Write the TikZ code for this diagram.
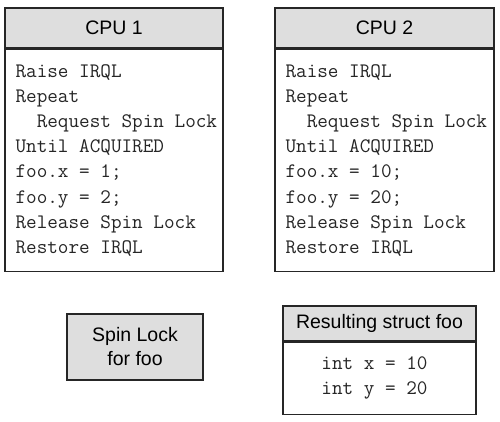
\documentclass[tikz,border=0pt]{standalone}
\usepackage{fontspec}
\setsansfont{Liberation Sans}
\usepackage{tikz}
\usetikzlibrary{positioning}

\begin{document}
\begin{tikzpicture}[
    x=1pt, y=1pt,
    font=\sffamily\fontsize{19.5}{24}\selectfont,
    frame/.style={draw=black!85, line width=1.3pt, rectangle, inner sep=0pt},
    head/.style={frame, fill=black!13, align=center},
    body/.style={frame, fill=white},
    code/.style={font=\ttfamily\fontsize{20.6}{25.2}\selectfont, text=black!85, align=left, inner sep=0pt},
    lock/.style={frame, fill=black!13, align=center}
  ]

  \useasboundingbox (0,0) rectangle (500,-422);

  % ---------- CPU columns ---------------------------------------------------
  \node[head, minimum width=218, minimum height=40] (cpuAhead) at (114,-28) {CPU 1};
  \node[body, minimum width=218, minimum height=222, below=0pt of cpuAhead] (cpuAbody) {};
  \node[code, anchor=west] (cpuAtext) at ([xshift=11]cpuAbody.west)
    {Raise IRQL\\ Repeat\\ \hphantom{RR}Request Spin Lock\\ Until ACQUIRED\\
     foo.x = 1;\\ foo.y = 2;\\ Release Spin Lock\\ Restore IRQL};

  \node[head, minimum width=219, minimum height=40] (cpuBhead) at (384.5,-28) {CPU 2};
  \node[body, minimum width=219, minimum height=222, below=0pt of cpuBhead] (cpuBbody) {};
  \node[code, anchor=west] (cpuBtext) at ([xshift=11]cpuBbody.west)
    {Raise IRQL\\ Repeat\\ \hphantom{RR}Request Spin Lock\\ Until ACQUIRED\\
     foo.x = 10;\\ foo.y = 20;\\ Release Spin Lock\\ Restore IRQL};

  % ---------- shared data ---------------------------------------------------
  \node[lock, minimum width=136, minimum height=66] (spin) at (135,-347) {Spin Lock\\for foo};

  \node[head, minimum width=193, minimum height=35] (fooHead) at (379.5,-323.5) {Resulting struct foo};
  \node[body, minimum width=193, minimum height=72, below=0pt of fooHead] (fooBody) {};
  \node[code, align=left] (fooText) at ([xshift=-5]fooBody.center) {int x = 10\\ int y = 20};

\end{tikzpicture}
\end{document}
